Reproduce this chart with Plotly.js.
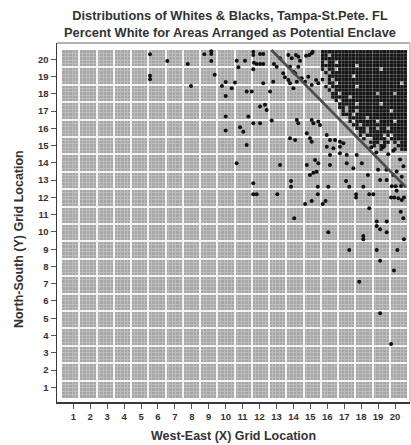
<!DOCTYPE html>
<html>
<head>
<meta charset="utf-8">
<script src="https://cdn.plot.ly/plotly-3.0.1.min.js"></script>
<style>
  html, body { margin: 0; padding: 0; background: #ffffff; }
  #chart { width: 411px; height: 445px; }
</style>
</head>
<body>
<div id="chart"></div>
<script>
// Grid locations labelled on both axes
const gridTicks = [1, 2, 3, 4, 5, 6, 7, 8, 9, 10, 11, 12, 13, 14, 15, 16, 17, 18, 19, 20];

// Individual majority-white areas (grid location units)
const tractX = [
  5.53, 6.55, 5.53, 5.53, 7.76, 7.95, 8.74, 9.15, 9.15, 9.15, 9.35, 10.0, 9.78, 10.0, 10.0, 10.0,
  11.63, 11.63, 12.03, 12.22, 10.65, 11.14, 11.67, 11.83, 12.03, 12.22, 10.75, 11.63, 12.85, 13.01,
  13.21, 13.7, 13.9, 14.15, 14.29, 14.39, 14.75, 14.94, 15.08, 15.14, 13.8, 14.0, 14.1, 14.29,
  13.4, 13.5, 13.7, 13.8, 14.2, 14.0, 14.49, 14.69, 14.88, 15.08, 15.34, 15.47, 10.55, 11.24,
  11.54, 12.22, 12.81, 12.62, 10.36, 12.03, 12.32, 12.42, 11.34, 12.72, 11.63, 12.03, 14.2, 14.29,
  15.08, 15.18, 15.47, 15.57, 10.85, 11.04, 11.24, 13.8, 14.1, 14.79, 14.98, 15.08, 15.97, 16.16,
  16.46, 16.75, 16.95, 15.97, 16.36, 16.75, 16.16, 16.75, 17.15, 10.65, 13.21, 14.79, 15.28, 15.47,
  16.16, 17.15, 17.54, 18.04, 17.74, 14.98, 15.18, 15.38,
  18.6, 18.9, 19.3, 19.6, 19.9, 20.3, 20.5, 19.5, 19.9, 20.1, 20.4, 18.4, 19.0,
  11.63, 11.63, 11.83, 13.05, 13.86, 13.86, 15.44, 16.06, 15.44, 14.69, 15.08, 15.73, 15.9, 14.05,
  16.06, 17.11, 17.3, 17.7, 17.7, 18.13, 18.48, 18.72, 18.48, 18.92, 18.92, 19.12, 19.51, 19.51,
  18.13, 18.13, 20.53, 17.3, 18.92, 20.14, 19.12, 19.94, 17.89, 19.12, 19.51, 19.81, 20.04, 20.36,
  20.1, 19.77, 19.96, 20.2, 20.4, 20.53, 20.34, 20.49, 19.12, 19.77
];
const tractY = [
  20.29, 19.9, 19.05, 18.85, 19.73, 18.46, 20.29, 20.47, 20.3, 19.9, 19.11, 18.69, 18.46, 17.88, 16.68, 15.87,
  20.44, 20.25, 20.31, 20.31, 19.92, 19.92, 19.8, 19.73, 19.73, 19.73, 19.54, 19.42, 19.73, 19.57,
  20.06, 20.25, 20.06, 20.25, 20.15, 19.92, 20.21, 20.25, 20.35, 20.44, 19.57, 19.28, 19.19, 19.57,
  19.19, 18.96, 18.8, 18.61, 18.7, 18.32, 18.9, 18.7, 18.99, 18.51, 18.8, 18.61, 18.65, 18.13,
  18.13, 18.61, 18.7, 18.13, 18.32, 17.26, 17.36, 17.07, 16.68, 16.45, 16.3, 16.3, 16.49, 16.3,
  16.49, 16.3, 16.39, 16.2, 16.06, 15.81, 15.04, 15.43, 15.33, 15.72, 15.43, 15.23, 15.62, 15.33,
  15.33, 15.23, 15.14, 14.94, 14.85, 14.94, 14.46, 14.56, 14.46, 13.98, 13.88, 13.88, 14.17, 13.98,
  13.88, 13.98, 13.69, 13.98, 14.46, 13.3, 13.43, 13.49,
  14.9, 14.6, 14.9, 14.5, 14.7, 14.2, 13.8, 13.6, 13.3, 13.5, 13.2, 13.3, 13.6,
  12.82, 12.18, 12.18, 12.18, 12.95, 12.62, 12.62, 12.62, 12.18, 11.62, 11.79, 11.62, 11.79, 10.79,
  9.98, 12.95, 12.62, 12.18, 12.0, 12.62, 12.18, 12.18, 11.37, 10.6, 10.35, 10.15, 10.6, 9.98,
  9.77, 9.57, 9.57, 8.95, 8.95, 8.95, 8.33, 7.76, 7.12, 13.01, 13.01, 12.64, 12.64, 12.66,
  12.39, 12.0, 12.0, 11.95, 11.85, 12.0, 11.17, 10.79, 5.29, 3.51
];

// Solid white core in the north-east: one string per fine-grid row (top row first),
// '#' = occupied cell, '.' = empty cell; five fine cells per grid block
const coreRows = [
  "#########################",
  "##.######################",
  "#########################",
  "#.##.####################",
  "##########.##############",
  "#.##.############.#######",
  ".#.######################",
  "..#######.###############",
  "#.#.#####################",
  "..##.##################.#",
  ".#.#######.##############",
  "..#.#####################",
  "...##.##########.####.###",
  "...#####.################",
  "....#.###################",
  ".....#####.######.#######",
  ".....##.#################",
  "......#.##.#########.####",
  "......###.###############",
  "........#####.###########",
  "........#.######.####.###",
  ".........##.#############",
  "..........###.##.##.#####",
  "...........##.###########",
  "...........#.#####.#.####",
  "............#..####.#####",
  "..............###.##.#.##",
  "...............#.##...###",
  ".................#...#.##"
];
const coreFirstCol = 75;   // fine-grid column of the first character
const coreTopRow = 99;     // fine-grid row of the first string
const fineCell = 0.2;      // fine-grid cell size in block units

// Enclave boundary (x + y = const)
const boundaryX = [12.7, 20.65];
const boundaryY = [20.54, 12.59];

const coreX = [], coreY = [];
coreRows.forEach(function (row, i) {
  const r = coreTopRow - i;
  for (let j = 0; j < row.length; j++) {
    if (row[j] === '#') {
      coreX.push((coreFirstCol + j + 0.5) * fineCell);
      coreY.push((r + 0.5) * fineCell);
    }
  }
});

const W = 411, H = 445;
const fx = px => px / W;
const fy = py => 1 - py / H;
const FONT = 'Liberation Sans, Arial, sans-serif';
const INK = '#333333';

const traces = [
  {
    type: 'scatter', mode: 'markers', x: coreX, y: coreY, xaxis: 'x', yaxis: 'y',
    marker: { symbol: 'square', size: 3.3, color: '#151515', line: { width: 0 } },
    hoverinfo: 'skip', showlegend: false
  },
  {
    type: 'scatter', mode: 'markers', x: tractX, y: tractY, xaxis: 'x2', yaxis: 'y2',
    marker: { symbol: 'circle', size: 4.0, color: '#111111', line: { width: 0 } },
    hoverinfo: 'skip', showlegend: false
  },
  {
    type: 'scatter', mode: 'lines', x: boundaryX, y: boundaryY, xaxis: 'x2', yaxis: 'y2',
    line: { color: '#4d4d4d', width: 2.6 }, hoverinfo: 'skip', showlegend: false
  }
];

const blockGridAxis = (domain, anchor) => ({
  domain: domain, anchor: anchor, range: [0, 20], fixedrange: true,
  tick0: 0, dtick: 1, showgrid: true, gridcolor: '#f4f4f4', gridwidth: 2,
  minor: { tick0: 0, dtick: fineCell, showgrid: true, gridcolor: '#bdbdbd', gridwidth: 1 },
  showticklabels: false, ticks: '', zeroline: false, showline: false
});

const labelAxis = (domain, anchor, range) => ({
  domain: domain, anchor: anchor, range: range, fixedrange: true,
  tickmode: 'array', tickvals: gridTicks, ticktext: gridTicks.map(String),
  ticks: 'outside', ticklen: 5, tickwidth: 1, tickcolor: '#555555',
  tickfont: { family: FONT, size: 9.5, color: INK, weight: 'bold' },
  showgrid: false, zeroline: false, showline: true, linecolor: '#3a3a3a', linewidth: 1.5
});

const layout = {
  width: W, height: H,
  margin: { l: 0, r: 0, t: 0, b: 0 },
  paper_bgcolor: '#ffffff', plot_bgcolor: 'rgba(0,0,0,0)',
  showlegend: false,
  title: {
    text: 'Distributions of Whites &amp; Blacks, Tampa-St.Pete. FL<br>Percent White for Areas Arranged as Potential Enclave',
    font: { family: FONT, size: 12.8, color: INK, weight: 'bold' },
    x: fx(230), xanchor: 'center', y: fy(20), yanchor: 'middle'
  },
  xaxis: blockGridAxis([fx(62), fx(407)], 'y'),
  yaxis: blockGridAxis([fy(398), fy(50)], 'x'),
  xaxis2: labelAxis([fx(57), fx(410)], 'y2', [0.037, 20.886]),
  yaxis2: labelAxis([fy(402), fy(43)], 'x2', [0.1485, 20.944]),
  shapes: [
    { type: 'rect', xref: 'x', yref: 'y', x0: 0, x1: 20, y0: 0, y1: 20,
      fillcolor: '#a6a6a6', line: { width: 0 }, layer: 'below' },
    { type: 'line', xref: 'paper', yref: 'paper', x0: fx(57), x1: fx(410), y0: fy(43), y1: fy(43),
      line: { color: '#9a9a9a', width: 1.6 } },
    { type: 'line', xref: 'paper', yref: 'paper', x0: fx(410), x1: fx(410), y0: fy(43), y1: fy(402),
      line: { color: '#b0b0b0', width: 1.2 } }
  ],
  annotations: [
    { text: 'West-East (X) Grid Location', xref: 'paper', yref: 'paper',
      x: fx(233.5), y: fy(436), xanchor: 'center', yanchor: 'middle', showarrow: false,
      font: { family: FONT, size: 12.5, color: INK, weight: 'bold' } },
    { text: 'North-South (Y) Grid Location', xref: 'paper', yref: 'paper',
      x: fx(19), y: fy(239), xanchor: 'center', yanchor: 'middle', showarrow: false, textangle: -90,
      font: { family: FONT, size: 12.5, color: INK, weight: 'bold' } }
  ]
};

Plotly.newPlot('chart', traces, layout, { staticPlot: true, displayModeBar: false });
</script>
</body>
</html>
